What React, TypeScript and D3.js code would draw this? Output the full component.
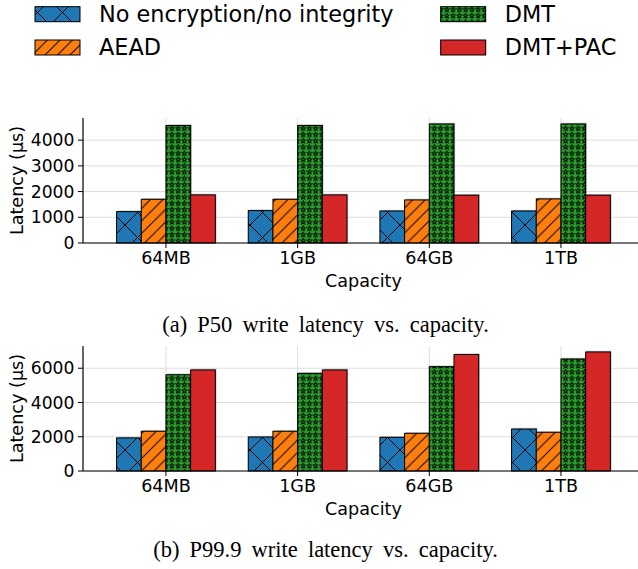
import React from "react";
import * as d3 from "d3";

const capacities = ["64MB", "1GB", "64GB", "1TB"];
const seriesNames = ["No encryption/no integrity", "AEAD", "DMT", "DMT+PAC"];
const seriesColors = ["#1f77b4", "#ff7f0e", "#2ca02c", "#d62728"];
const seriesFills = ["url(#hatchX)", "url(#hatchSlash)", "url(#hatchStar)", "#d62728"];

// P50 latency (us)
const p50None = [1220, 1260, 1245, 1245];
const p50Aead = [1700, 1700, 1675, 1715];
const p50Dmt = [4570, 4570, 4630, 4630];
const p50DmtPac = [1870, 1870, 1860, 1860];
const p50Ticks = [0, 1000, 2000, 3000, 4000];

// P99.9 latency (us)
const p999None = [1930, 1985, 1965, 2450];
const p999Aead = [2320, 2320, 2200, 2260];
const p999Dmt = [5620, 5700, 6090, 6540];
const p999DmtPac = [5900, 5900, 6800, 6950];
const p999Ticks = [0, 2000, 4000, 6000];

const W = 638;
const H = 569;
const left = 83;
const right = 638;
const barW = 0.1875;
const font = "'DejaVu Sans', sans-serif";

const xScale = d3.scaleLinear().domain([-0.63, 3.585]).range([left, right]);

function starPath(cx: number, cy: number, r: number) {
  const pts: [number, number][] = [];
  for (let i = 0; i < 10; i++) {
    const a = -Math.PI / 2 + (i * Math.PI) / 5;
    const rr = i % 2 === 0 ? r : r * 0.45;
    pts.push([cx + rr * Math.cos(a), cy + rr * Math.sin(a)]);
  }
  return d3.line()(pts) + "Z";
}

const Panel = ({ series, ticks, top, bottom, caption, captionY }: any) => {
  const ymax = (d3.max(series.flat() as number[]) || 0) * 1.05;
  const y = d3.scaleLinear().domain([0, ymax]).range([bottom, top]);
  const step = xScale(1) - xScale(0);
  return (
    <g>
      {/* grid */}
      {ticks.map((t: number) => (
        <line key={"gy" + t} x1={left} x2={right} y1={y(t)} y2={y(t)} stroke="#dddddd" strokeWidth={1} />
      ))}
      {capacities.map((c, i) => (
        <line key={"gx" + c} x1={xScale(i)} x2={xScale(i)} y1={top} y2={bottom} stroke="#dddddd" strokeWidth={1} />
      ))}
      {/* bars */}
      {series.map((vals: number[], j: number) =>
        vals.map((v, i) => {
          const x0 = xScale(i + (j - 2) * barW);
          const w = barW * step;
          return (
            <g key={j + "-" + i}>
              <rect x={x0 + 1.2} y={y(v) - 1.2} width={w} height={bottom - y(v)} fill="#888" opacity={0.5} />
              <rect x={x0} y={y(v)} width={w} height={bottom - y(v)} fill={seriesColors[j]} />
              <rect x={x0} y={y(v)} width={w} height={bottom - y(v)} fill={seriesFills[j]} stroke="#000" strokeWidth={1} />
            </g>
          );
        })
      )}
      {/* spines */}
      <line x1={left} x2={left} y1={top} y2={bottom} stroke="#000" strokeWidth={1.2} />
      <line x1={left} x2={right} y1={bottom} y2={bottom} stroke="#000" strokeWidth={1.2} />
      {ticks.map((t: number) => (
        <g key={"ty" + t}>
          <line x1={left - 5} x2={left} y1={y(t)} y2={y(t)} stroke="#000" strokeWidth={1} />
          <text x={left - 8.5} y={y(t) + 6.2} textAnchor="end" fontSize={17.2} fontFamily={font}>{t}</text>
        </g>
      ))}
      {capacities.map((c, i) => (
        <g key={"tx" + c}>
          <line x1={xScale(i)} x2={xScale(i)} y1={bottom} y2={bottom + 5} stroke="#000" strokeWidth={1} />
          <text x={xScale(i)} y={bottom + 21} textAnchor="middle" fontSize={17.6} fontFamily={font}>{c}</text>
        </g>
      ))}
      <text x={(left + right) / 2 + 3} y={bottom + 43.5} textAnchor="middle" fontSize={17.6} fontFamily={font}>Capacity</text>
      <text transform={`translate(22.5,${(top + bottom) / 2}) rotate(-90)`} textAnchor="middle" fontSize={17.6} fontFamily={font}>Latency (μs)</text>
      <text x={325.5} y={captionY} textAnchor="middle" fontSize={22.5} fontFamily="'Liberation Serif', serif" wordSpacing={4.5}>{caption}</text>
    </g>
  );
};

export default function App() {
  const legendCols = [35, 440.7];
  const legendRows = [6.7, 40];
  return (
    <svg width={W} height={H} style={{ position: "absolute", left: 0, top: 0, background: "#fff" }}>
      <defs>
        <pattern id="hatchX" patternUnits="userSpaceOnUse" width={25} height={25}>
          <rect width={25} height={25} fill="#1f77b4" />
          <path d="M0,0L25,25M25,0L0,25" stroke="#000" strokeWidth={1} />
        </pattern>
        <pattern id="hatchSlash" patternUnits="userSpaceOnUse" width={12.5} height={12.5}>
          <rect width={12.5} height={12.5} fill="#ff7f0e" />
          <path d="M-1,13.5L13.5,-1M-1,1L1,-1M11.5,13.5L13.5,11.5" stroke="#000" strokeWidth={1} />
        </pattern>
        <pattern id="hatchStar" patternUnits="userSpaceOnUse" width={6.25} height={6.25}>
          <rect width={6.25} height={6.25} fill="#2ca02c" />
          <path d={starPath(3.125, 3.3, 2.5)} fill="none" stroke="#000" strokeWidth={0.9} />
        </pattern>
      </defs>
      {seriesNames.map((s, k) => {
        const col = Math.floor(k / 2);
        const row = k % 2;
        const px = legendCols[col];
        const py = legendRows[row];
        return (
          <g key={s}>
            <rect x={px} y={py} width={45} height={15} fill={seriesColors[k]} />
            <rect x={px} y={py} width={45} height={15} fill={seriesFills[k]} stroke="#000" strokeWidth={1} />
            <text x={px + 64} y={py + 15} fontSize={22.4} fontFamily={font}>{s}</text>
          </g>
        );
      })}
      <Panel
        series={[p50None, p50Aead, p50Dmt, p50DmtPac]}
        ticks={p50Ticks}
        top={118}
        bottom={243}
        caption="(a) P50 write latency vs. capacity."
        captionY={331.5}
      />
      <Panel
        series={[p999None, p999Aead, p999Dmt, p999DmtPac]}
        ticks={p999Ticks}
        top={346}
        bottom={471}
        caption="(b) P99.9 write latency vs. capacity."
        captionY={557}
      />
    </svg>
  );
}
